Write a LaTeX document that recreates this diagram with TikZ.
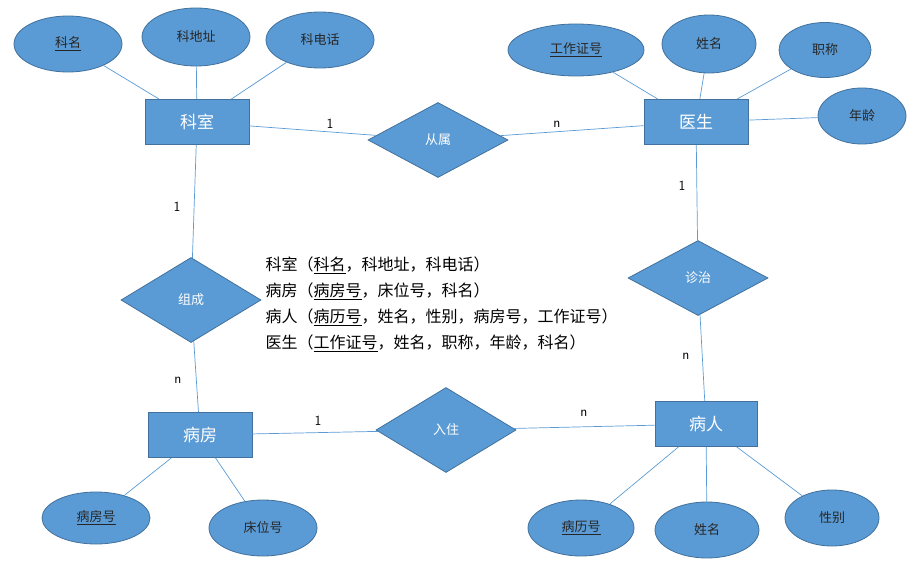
\documentclass[tikz,border=0pt]{standalone}
\usepackage{fontspec}
\setmainfont{Noto Sans CJK SC}
\usetikzlibrary{shapes.geometric}
\definecolor{fillb}{HTML}{5B9BD5}
\definecolor{edgeb}{HTML}{41719C}
\begin{document}
\begin{tikzpicture}[x=1pt,y=-1pt,
  ent/.style={draw=edgeb,fill=fillb,line width=0.8pt,minimum width=104pt,minimum height=45pt,inner sep=0pt,text=white,font=\fontsize{17}{17}\selectfont},
  rel/.style={diamond,draw=edgeb,fill=fillb,line width=0.8pt,inner sep=0pt,aspect=1.7,text=white,font=\fontsize{13}{13}\selectfont},
  att/.style={ellipse,draw=edgeb,fill=fillb,line width=0.8pt,inner sep=0pt,text=black!85,font=\fontsize{13}{13}\selectfont},
  ln/.style={draw=fillb,line width=0.7pt},
  lab/.style={font=\sffamily\fontsize{14}{14}\selectfont}]
\useasboundingbox (0,0) rectangle (923,567);
\node[ent] (ks) at (197,122) {科室};
\node[ent] (ys) at (696,122) {医生};
\node[ent] (bf) at (200,435) {病房};
\node[ent,minimum width=102pt] (br) at (706,424) {病人};
\node[rel,minimum width=140pt,minimum height=75pt] (cs) at (438,140) {从属};
\node[rel,minimum width=140pt,minimum height=85pt] (zc) at (191,300) {组成};
\node[rel,minimum width=140pt,minimum height=75pt] (zz) at (698,278) {诊治};
\node[rel,minimum width=140pt,minimum height=85pt] (rz) at (446,430) {入住};
\node[att,minimum width=108pt,minimum height=56pt] (a1) at (68,44) {\underline{科名}};
\node[att,minimum width=108pt,minimum height=58pt] (a2) at (196,37) {科地址};
\node[att,minimum width=108pt,minimum height=56pt] (a3) at (320,40) {科电话};
\node[att,minimum width=136pt,minimum height=52pt] (b1) at (576,50) {\underline{工作证号}};
\node[att,minimum width=94pt,minimum height=58pt] (b2) at (709,44) {姓名};
\node[att,minimum width=92pt,minimum height=55pt] (b3) at (825,50) {职称};
\node[att,minimum width=88pt,minimum height=56pt] (b4) at (862,116) {年龄};
\node[att,minimum width=108pt,minimum height=52pt] (c1) at (96,518) {\underline{病房号}};
\node[att,minimum width=108pt,minimum height=56pt] (c2) at (263,528) {床位号};
\node[att,minimum width=106pt,minimum height=56pt] (d1) at (581,528) {\underline{病历号}};
\node[att,minimum width=104pt,minimum height=56pt] (d2) at (707,530) {姓名};
\node[att,minimum width=94pt,minimum height=56pt] (d3) at (832,518) {性别};
\foreach \a/\b in {a1/ks,a2/ks,a3/ks,b1/ys,b2/ys,b3/ys,b4/ys,c1/bf,c2/bf,d1/br,d2/br,d3/br,ks/cs,cs/ys,ks/zc,zc/bf,ys/zz,zz/br,bf/rz,rz/br}
  \draw[ln] (\a) -- (\b);
\node[lab] (l1) at (330,124) {1};
\node[lab] (l2) at (557,124) {n};
\node[lab] (l3) at (177,207) {1};
\node[lab] (l4) at (178,380) {n};
\node[lab] (l5) at (682,186) {1};
\node[lab] (l6) at (686,356) {n};
\node[lab] (l7) at (318,421) {1};
\node[lab] (l8) at (584,413) {n};
\node[anchor=west,align=left,font=\fontsize{16}{26}\selectfont] (txt) at (262,304) {科室（\underline{科名}，科地址，科电话）\\病房（\underline{病房号}，床位号，科名）\\病人（\underline{病历号}，姓名，性别，病房号，工作证号）\\医生（\underline{工作证号}，姓名，职称，年龄，科名）};
\end{tikzpicture}
\end{document}
